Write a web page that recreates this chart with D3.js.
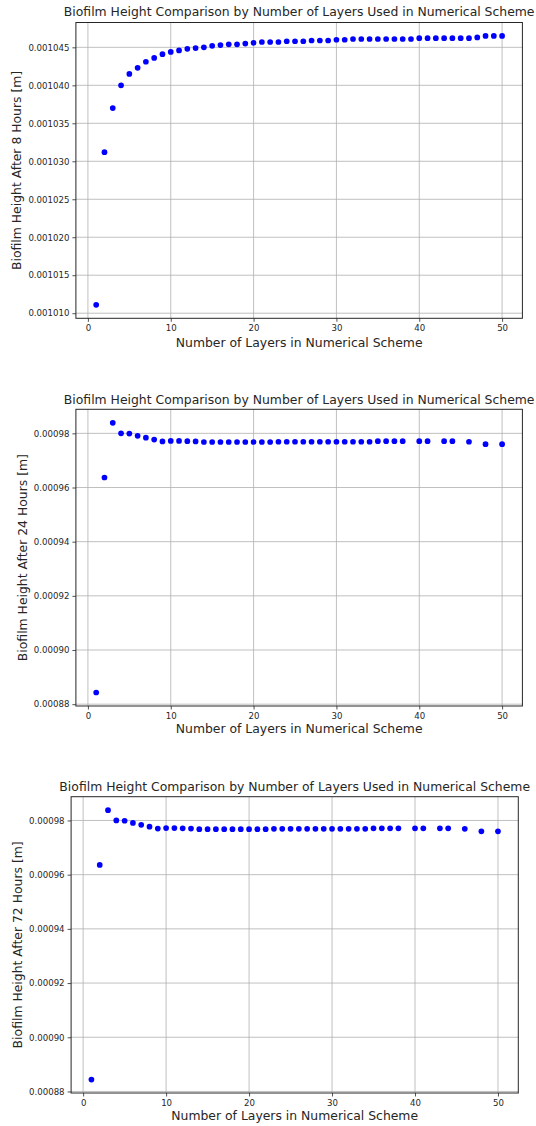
<!DOCTYPE html>
<html>
<head>
<meta charset="utf-8">
<script src="https://cdn.jsdelivr.net/npm/d3@7"></script>
<style>
    body { margin: 0; background: #fff; }
    svg text { font-family: "DejaVu Sans", sans-serif; fill: #262626; }
</style>
</head>
<body>
<div id="chart"></div>
<script>
// shared labels
const titleText = "Biofilm Height Comparison by Number of Layers Used in Numerical Scheme";
const xLabelText = "Number of Layers in Numerical Scheme";
const xTicks = [0, 10, 20, 30, 40, 50];

// 8 hours
const layers8 = [1, 2, 3, 4, 5, 6, 7, 8, 9, 10, 11, 12, 13, 14, 15, 16, 17, 18, 19, 20,
    21, 22, 23, 24, 25, 26, 27, 28, 29, 30, 31, 32, 33, 34, 35, 36, 37, 38, 39, 40,
    41, 42, 43, 44, 45, 46, 47, 48, 49, 50];
const height8 = [
    0.0010111, 0.0010312, 0.0010370, 0.0010400, 0.0010415, 0.0010423, 0.0010431, 0.0010436, 0.0010441, 0.0010444,
    0.0010446, 0.0010448, 0.0010449, 0.0010450, 0.0010452, 0.0010453, 0.0010454, 0.0010454, 0.0010455, 0.0010456,
    0.0010457, 0.0010457, 0.0010457, 0.0010458, 0.0010458, 0.0010458, 0.0010459, 0.0010459, 0.0010459, 0.0010460,
    0.0010460, 0.0010461, 0.0010461, 0.0010461, 0.0010461, 0.0010461, 0.0010461, 0.0010461, 0.0010461, 0.0010462,
    0.0010462, 0.0010462, 0.0010462, 0.0010462, 0.0010462, 0.0010462, 0.0010463, 0.0010465, 0.0010465, 0.0010465];
const yTicks8 = [0.001010, 0.001015, 0.001020, 0.001025, 0.001030, 0.001035, 0.001040, 0.001045];

// 24 hours
const layers24 = [1, 2, 3, 4, 5, 6, 7, 8, 9, 10, 11, 12, 13, 14, 15, 16, 17, 18, 19, 20,
    21, 22, 23, 24, 25, 26, 27, 28, 29, 30, 31, 32, 33, 34, 35, 36, 37, 38, 40, 41, 43, 44, 46, 48, 50];
const height24 = [
    0.0008843, 0.0009637, 0.0009839, 0.0009800, 0.0009799, 0.0009791, 0.0009784, 0.0009777, 0.0009770, 0.0009772,
    0.0009772, 0.0009771, 0.0009770, 0.0009768, 0.0009768, 0.0009768, 0.0009768, 0.0009768, 0.0009768, 0.0009768,
    0.0009768, 0.0009768, 0.0009769, 0.0009769, 0.0009769, 0.0009769, 0.0009769, 0.0009769, 0.0009769, 0.0009769,
    0.0009769, 0.0009769, 0.0009769, 0.0009769, 0.0009771, 0.0009771, 0.0009771, 0.0009771, 0.0009771, 0.0009771,
    0.0009771, 0.0009771, 0.0009769, 0.0009760, 0.0009760];
const yTicks24 = [0.00088, 0.00090, 0.00092, 0.00094, 0.00096, 0.00098];

// 72 hours
const layers72 = [1, 2, 3, 4, 5, 6, 7, 8, 9, 10, 11, 12, 13, 14, 15, 16, 17, 18, 19, 20,
    21, 22, 23, 24, 25, 26, 27, 28, 29, 30, 31, 32, 33, 34, 35, 36, 37, 38, 40, 41, 43, 44, 46, 48, 50];
const height72 = [
    0.0008844, 0.0009636, 0.0009838, 0.0009800, 0.0009799, 0.0009791, 0.0009784, 0.0009777, 0.0009770, 0.0009772,
    0.0009772, 0.0009771, 0.0009770, 0.0009768, 0.0009768, 0.0009768, 0.0009768, 0.0009768, 0.0009768, 0.0009768,
    0.0009768, 0.0009768, 0.0009769, 0.0009769, 0.0009769, 0.0009769, 0.0009769, 0.0009769, 0.0009769, 0.0009769,
    0.0009769, 0.0009769, 0.0009769, 0.0009769, 0.0009771, 0.0009771, 0.0009771, 0.0009771, 0.0009771, 0.0009771,
    0.0009771, 0.0009771, 0.0009769, 0.0009760, 0.0009760];
const yTicks72 = [0.00088, 0.00090, 0.00092, 0.00094, 0.00096, 0.00098];

const svg = d3.select("#chart")
    .append("svg")
    .attr("width", 536)
    .attr("height", 1126);

function drawPanel(opts) {
    let left = opts.left, right = opts.right, top = opts.top, bottom = opts.bottom;
    let data = opts.layers.map((l, i) => ({ layer: l, h: opts.heights[i] }));

    // matplotlib-style 5% margins
    let xMin = d3.min(data, d => d.layer), xMax = d3.max(data, d => d.layer);
    let yMin = d3.min(data, d => d.h), yMax = d3.max(data, d => d.h);
    let xPad = (xMax - xMin) * 0.05, yPad = (yMax - yMin) * 0.05;

    let x = d3.scaleLinear().domain([xMin - xPad, xMax + xPad]).range([left, right]);
    let y = d3.scaleLinear().domain([yMin - yPad, yMax + yPad]).range([bottom, top]);

    let g = svg.append("g");

    // grid
    g.append("g").selectAll("line")
        .data(xTicks).enter().append("line")
        .attr("x1", d => x(d)).attr("x2", d => x(d))
        .attr("y1", top).attr("y2", bottom)
        .attr("stroke", "#b0b0b0").attr("stroke-width", 0.8);
    g.append("g").selectAll("line")
        .data(opts.yTicks).enter().append("line")
        .attr("x1", left).attr("x2", right)
        .attr("y1", d => y(d)).attr("y2", d => y(d))
        .attr("stroke", "#b0b0b0").attr("stroke-width", 0.8);

    // points
    g.append("g").selectAll("circle")
        .data(data).enter().append("circle")
        .attr("cx", d => x(d.layer))
        .attr("cy", d => y(d.h))
        .attr("r", 2.85)
        .attr("fill", "#0000ff");

    // axes
    let xAxis = d3.axisBottom(x).tickValues(xTicks).tickSize(3.5).tickPadding(3);
    let yAxis = d3.axisLeft(y).tickValues(opts.yTicks).tickFormat(d3.format(opts.fmt)).tickSize(3.5).tickPadding(3);

    let xg = g.append("g").attr("transform", `translate(0,${bottom})`).call(xAxis);
    let yg = g.append("g").attr("transform", `translate(${left},0)`).call(yAxis);
    [xg, yg].forEach(ag => {
        ag.select(".domain").remove();
        ag.selectAll(".tick line").attr("stroke", "#262626").attr("stroke-width", 0.8);
        ag.selectAll(".tick text").style("font-size", "8.6px").attr("fill", "#262626");
    });

    // spines
    g.append("rect")
        .attr("x", left).attr("y", top)
        .attr("width", right - left).attr("height", bottom - top)
        .attr("fill", "none").attr("stroke", "#262626").attr("stroke-width", 1);

    // title
    g.append("text")
        .attr("x", (left + right) / 2)
        .attr("y", opts.titleY)
        .attr("text-anchor", "middle")
        .style("font-size", "12.4px")
        .text(titleText);

    // x label
    g.append("text")
        .attr("x", (left + right) / 2)
        .attr("y", opts.xLabelY)
        .attr("text-anchor", "middle")
        .style("font-size", "12.4px")
        .text(xLabelText);

    // y label
    g.append("text")
        .attr("transform", `translate(${opts.yLabelX},${(top + bottom) / 2}) rotate(-90)`)
        .attr("text-anchor", "middle")
        .style("font-size", "12.4px")
        .text(opts.yLabel);
}

drawPanel({
    layers: layers8, heights: height8, yTicks: yTicks8, fmt: ".6f",
    left: 75.9, right: 522.4, top: 22.5, bottom: 318.3,
    titleY: 16, xLabelY: 346.8, yLabelX: 20.8,
    yLabel: "Biofilm Height After 8 Hours [m]"
});

drawPanel({
    layers: layers24, heights: height24, yTicks: yTicks24, fmt: ".5f",
    left: 75.9, right: 522.4, top: 409.3, bottom: 706,
    titleY: 403.5, xLabelY: 733.3, yLabelX: 26.6,
    yLabel: "Biofilm Height After 24 Hours [m]"
});

drawPanel({
    layers: layers72, heights: height72, yTicks: yTicks72, fmt: ".5f",
    left: 71.1, right: 518.3, top: 796.7, bottom: 1093,
    titleY: 790.7, xLabelY: 1120, yLabelX: 21.5,
    yLabel: "Biofilm Height After 72 Hours [m]"
});
</script>
</body>
</html>
